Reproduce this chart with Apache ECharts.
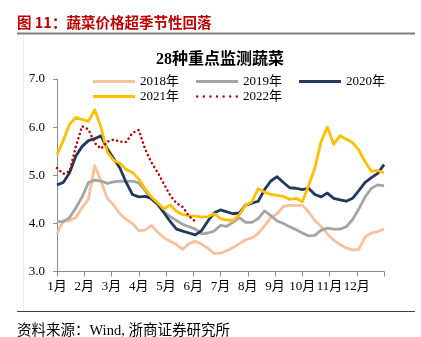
<!DOCTYPE html>
<html>
<head>
<meta charset="utf-8">
<script src="https://cdn.jsdelivr.net/npm/echarts@6/dist/echarts.min.js"></script>
<style>
  html, body { margin: 0; padding: 0; background: #fff; }
  #chart { width: 421px; height: 337px; }
</style>
</head>
<body>
<div id="chart"></div>
<script>
// Weekly observations across the calendar year (x measured in months from 1 Jan)
const WEEKS = 53;
const weekPos = Array.from({ length: WEEKS }, (_, i) => i * 12 / 52);

const monthLabels = ['1月', '2月', '3月', '4月', '5月', '6月', '7月', '8月', '9月', '10月', '11月', '12月'];
const yTicks = [3, 4, 5, 6, 7];

const seriesNames = ['2018年', '2019年', '2020年', '2021年', '2022年'];

// Average wholesale price of 28 key monitored vegetables (元/公斤)
const v2018 = [3.78, 4.05, 4.06, 4.12, 4.33, 4.50, 5.20, 4.88, 4.52, 4.38,
               4.20, 4.08, 4.00, 3.85, 3.86, 3.96, 3.82, 3.70, 3.63, 3.56,
               3.46, 3.58, 3.63, 3.57, 3.48, 3.37, 3.38, 3.43, 3.50, 3.58,
               3.66, 3.70, 3.79, 3.95, 4.12, 4.20, 4.35, 4.38, 4.37, 4.38,
               4.24, 4.06, 3.94, 3.78, 3.65, 3.56, 3.49, 3.45, 3.46, 3.72,
               3.80, 3.83, 3.88];
const v2019 = [4.04, 4.03, 4.12, 4.32, 4.55, 4.85, 4.90, 4.88, 4.83, 4.86,
               4.88, 4.87, 4.88, 4.84, 4.68, 4.50, 4.40, 4.24, 4.14, 4.06,
               3.98, 3.93, 3.88, 3.78, 3.80, 3.84, 3.96, 3.94, 4.02, 4.12,
               4.02, 4.02, 4.10, 4.26, 4.16, 4.05, 4.00, 3.93, 3.87, 3.80,
               3.74, 3.75, 3.86, 3.90, 3.88, 3.88, 3.93, 4.08, 4.30, 4.55,
               4.73, 4.80, 4.78];
const v2020 = [4.80, 4.85, 5.05, 5.40, 5.60, 5.72, 5.76, 5.82, 5.55, 5.35,
               5.15, 4.85, 4.60, 4.55, 4.56, 4.52, 4.40, 4.22, 4.04, 3.88,
               3.84, 3.80, 3.76, 3.85, 4.05, 4.22, 4.28, 4.24, 4.20, 4.22,
               4.38, 4.42, 4.46, 4.70, 4.88, 4.97, 4.85, 4.74, 4.73, 4.70,
               4.73, 4.60, 4.55, 4.63, 4.52, 4.49, 4.46, 4.52, 4.68, 4.85,
               4.95, 5.04, 5.22];
const v2021 = [5.43, 5.72, 6.06, 6.20, 6.16, 6.12, 6.36, 6.00, 5.48, 5.31,
               5.25, 5.12, 5.06, 4.92, 4.72, 4.55, 4.43, 4.30, 4.38, 4.25,
               4.18, 4.16, 4.15, 4.13, 4.14, 4.20, 4.10, 4.07, 4.06, 4.18,
               4.38, 4.45, 4.72, 4.65, 4.60, 4.58, 4.56, 4.50, 4.52, 4.45,
               4.78, 5.15, 5.70, 6.00, 5.64, 5.82, 5.75, 5.68, 5.52, 5.28,
               5.08, 5.10, 5.05];
const v2022 = [5.15, 5.03, 5.08, 5.60, 6.02, 5.95, 5.67, 5.55, 5.70, 5.74,
               5.70, 5.69, 5.88, 5.94, 5.55, 5.27, 5.06, 4.82, 4.58, 4.42,
               4.34, 4.15, 4.04];

const colors = ['#F6C19C', '#A5A5A5', '#22385E', '#FFC000', '#C00000'];
const seriesValues = [v2018, v2019, v2020, v2021, v2022];

const serifFont = '"Liberation Serif", "Noto Sans CJK SC", serif';
const axisGray = '#8C8C8C';

// Legend key for the dotted series: a row of small round dots
function dotRowPath(count, step, r) {
  let d = '';
  for (let k = 0; k < count; k++) {
    const cx = r + k * step;
    d += 'M' + (cx - r) + ',' + r + 'a' + r + ',' + r + ' 0 1,0 ' + (2 * r) + ',0' +
         'a' + r + ',' + r + ' 0 1,0 ' + (-2 * r) + ',0';
  }
  return 'path://' + d;
}

const chart = echarts.init(document.getElementById('chart'), null, { renderer: 'canvas' });

const series = seriesNames.map((name, i) => {
  const dotted = i === 4;
  return {
    name: name,
    type: 'line',
    showSymbol: false,
    symbol: 'none',
    smooth: false,
    data: seriesValues[i].map((v, k) => [weekPos[k], v]),
    lineStyle: dotted
      ? { color: colors[i], width: 2.5, type: [0.1, 4.4], cap: 'round' }
      : { color: colors[i], width: 2.8, join: 'round' },
    itemStyle: { color: colors[i] },
    z: 2 + i
  };
});

const legendItem = (name, i) => ({
  name: name,
  icon: i === 4 ? dotRowPath(7, 6.5, 1.2) : 'rect',
  itemStyle: { color: colors[i] }
});

// Legend shared look; two rows placed one under the other
const legendBase = {
  orient: 'horizontal',
  left: 88,
  itemWidth: 42,
  itemGap: 17,
  textStyle: { fontFamily: serifFont, fontSize: 13, color: '#000' }
};

chart.setOption({
  animation: false,
  backgroundColor: '#ffffff',
  title: {
    text: '28种重点监测蔬菜',
    left: 215,
    top: 47,
    textAlign: 'center',
    textStyle: { fontFamily: serifFont, fontSize: 16, fontWeight: 'bold', color: '#000' }
  },
  legend: [
    Object.assign({}, legendBase, {
      data: seriesNames.slice(0, 3).map((n, k) => legendItem(n, k)),
      top: 70,
      itemHeight: 3.2
    }),
    Object.assign({}, legendBase, {
      data: seriesNames.slice(3).map((n, k) => legendItem(n, k + 3)),
      top: 85,
      itemHeight: 3.2
    })
  ],
  grid: { left: 57, right: 37, top: 79, bottom: 65.5, containLabel: false },
  xAxis: {
    type: 'value',
    min: 0,
    max: 12,
    interval: 1,
    axisLine: { show: true, lineStyle: { color: axisGray, width: 1 } },
    axisTick: { show: true, length: 5, lineStyle: { color: axisGray } },
    splitLine: { show: false },
    axisLabel: {
      margin: 9,
      fontFamily: serifFont,
      fontSize: 13,
      color: '#000',
      formatter: v => (v >= 0 && v < 12 ? monthLabels[v] : '')
    }
  },
  yAxis: {
    type: 'value',
    min: yTicks[0],
    max: yTicks[yTicks.length - 1],
    interval: 1,
    axisLine: { show: true, lineStyle: { color: axisGray, width: 1 } },
    axisTick: { show: true, length: 4, lineStyle: { color: axisGray } },
    splitLine: { show: false },
    axisLabel: {
      margin: 12,
      fontFamily: serifFont,
      fontSize: 13,
      color: '#000',
      formatter: v => v.toFixed(1)
    }
  },
  graphic: [
    {
      type: 'text',
      left: 17,
      top: 15,
      style: {
        text: '图 11：蔬菜价格超季节性回落',
        font: 'bold 14.5px "Noto Sans CJK SC", sans-serif',
        fill: '#C00000'
      }
    },
    {
      type: 'line',
      shape: { x1: 17, y1: 33.5, x2: 415, y2: 33.5 },
      style: { stroke: '#7F7F7F', lineWidth: 2 }
    },
    {
      type: 'line',
      shape: { x1: 23.5, y1: 35, x2: 23.5, y2: 311 },
      style: { stroke: '#F0F0F0', lineWidth: 1 }
    },
    {
      type: 'line',
      shape: { x1: 17, y1: 311.5, x2: 415, y2: 311.5 },
      style: { stroke: '#404040', lineWidth: 1.2 }
    },
    {
      type: 'text',
      left: 17,
      top: 324,
      style: {
        text: '资料来源：Wind, 浙商证券研究所',
        font: '14.5px "Liberation Serif", "Noto Sans CJK SC", serif',
        fill: '#000'
      }
    }
  ],
  series: series
});
</script>
</body>
</html>
